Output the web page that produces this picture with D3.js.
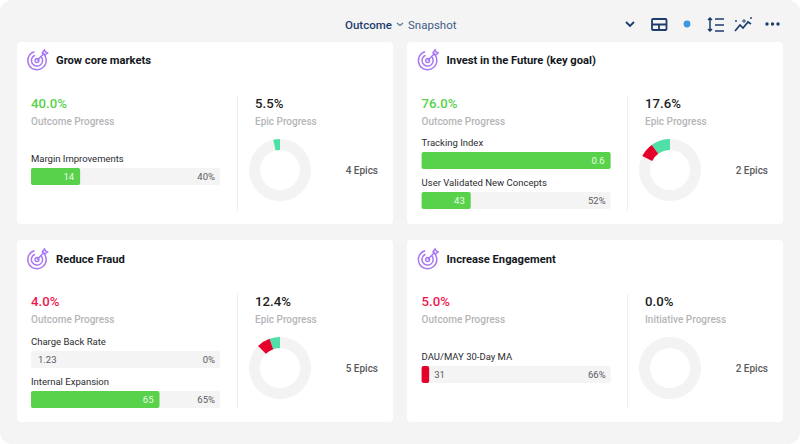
<!DOCTYPE html>
<html><head><meta charset="utf-8">
<script src="https://cdn.jsdelivr.net/npm/d3@7/dist/d3.min.js"></script>
<style>html,body{margin:0;padding:0;background:#fff}svg{display:block}text{font-family:Roboto,Inter,"Noto Sans",sans-serif}</style>
</head><body><svg id="c" width="800" height="444"></svg>
<script>
const titles=["Grow core markets","Invest in the Future (key goal)","Reduce Fraud","Increase Engagement"];
const outcomeLabels=["40.0%","76.0%","4.0%","5.0%"];
const outcomeColors=["#57d24a","#57d24a","#f0174f","#f0174f"];
const rightLabels=["5.5%","17.6%","12.4%","0.0%"];
const rightNames=["Epic Progress","Epic Progress","Epic Progress","Initiative Progress"];
const epicCounts=["4 Epics","2 Epics","5 Epics","2 Epics"];
const donutTeal=[3.5,10,5.5,0];
const donutRed=[0,7.6,7,0];
const metricNames=[["Margin Improvements"],["Tracking Index","User Validated New Concepts"],["Charge Back Rate","Internal Expansion"],["DAU/MAY 30-Day MA"]];
const metricValues=[["14"],["0.6","43"],["1.23","65"],["31"]];
const metricFill=[[26],[100,26],[0,68],[4]];
const metricPct=[["40%"],["","52%"],["0%","65%"],["66%"]];
const metricColor=[["#57d24a"],["#57d24a","#57d24a"],["#57d24a","#57d24a"],["#e4002b"]];

const svg=d3.select("#c");
svg.append("rect").attr("width",800).attr("height",444).attr("rx",12).attr("fill","#f4f4f5");
const cardX=d3.scaleOrdinal([0,1,2,3],[17,407,17,407]);
const cardY=d3.scaleOrdinal([0,1,2,3],[42,42,240,240]);
const titleShift=d3.scaleOrdinal([0,1,2,3],[0,0,1,1]);
const barStart=d3.scaleOrdinal([0,1,2,3],[126,110,111,126]);
const colShift=d3.scaleOrdinal([0,1,2,3],[0,0.6,0,0.6]);
const barW=d3.scaleLinear([0,100],[0,189]);
const arc=d3.arc().innerRadius(20).outerRadius(31);
const navy="#1c3d6b";

const T=(g,x,y,s,size,fill,weight,anchor)=>g.append("text").attr("x",x).attr("y",y).text(s).attr("font-size",size).attr("fill",fill).attr("font-weight",weight||400).attr("text-anchor",anchor||"start");
const h=svg.append("g");
T(h,345,29,"Outcome",11.5,navy,500);
h.append("path").attr("d","M397 23l3 2.5 3-2.5").attr("fill","none").attr("stroke","#5b7493").attr("stroke-width",1.1);
T(h,408,29,"Snapshot",11.5,"#3f5f86",400);
const ic=h.append("g").attr("fill","none").attr("stroke",navy).attr("stroke-width",1.8);
ic.append("path").attr("d","M626 22l4 4 4-4");
ic.append("rect").attr("x",652).attr("y",19).attr("width",14.5).attr("height",11).attr("rx",1);
ic.append("path").attr("d","M652 24.5h14.5M659 24.5v5.5");
h.append("circle").attr("cx",687).attr("cy",24).attr("r",3.4).attr("fill","#3b97e0");
ic.append("path").attr("d","M710 18v13M708 20l2-2 2 2M708 29l2 2 2-2M715 19h9M715 25h9M715 31h9").attr("stroke-width",1.5);
ic.append("path").attr("d","M735 31l5-6 3 3 5-6 3 2").attr("stroke-width",1.7);
ic.append("path").attr("d","M744 19v4M742 21h4M736 20v2M735 21h2M751 17v2M750 18h2").attr("stroke-width",.9);
[767,772.5,778].forEach(x=>h.append("circle").attr("cx",x).attr("cy",24).attr("r",1.7).attr("fill",navy));

titles.forEach((title,i)=>{
  const card=svg.append("g").attr("transform",`translate(${cardX(i)},${cardY(i)})`);
  card.append("rect").attr("width",376).attr("height",182).attr("rx",4).attr("fill","#fff");
  const g=card.append("g").attr("transform",`translate(${colShift(i)},0)`);
  const ig=g.append("g").attr("transform",`translate(20,${18.5+titleShift(i)})`).attr("fill","none").attr("stroke","#a878f2").attr("stroke-width",1.5);
  ig.append("path").attr("d",d3.arc()({innerRadius:9.2,outerRadius:9.2,startAngle:0.6,endAngle:6.0}));
  ig.append("path").attr("d",d3.arc()({innerRadius:5.6,outerRadius:5.6,startAngle:0.7,endAngle:5.9}));
  ig.append("path").attr("d",d3.arc()({innerRadius:2,outerRadius:2,startAngle:0,endAngle:6.28}));
  ig.append("path").attr("d","M0 0L6.5 -6.5M5.5 -8l2 -2.5 1 2 2 1 -2.5 2z");
  T(g,39,21.5+titleShift(i),title,11.2,"#15171c",700);
  T(g,14,66,outcomeLabels[i],13.2,outcomeColors[i],500);
  T(g,14,83,"Outcome Progress",10,"#b5b6b9",500);
  const names=metricNames[i];
  const y0=barStart(i);
  names.forEach((n,j)=>{
    const by=y0+j*40;
    T(g,14,by-6,n,9.5,"#2a2c30",400);
    g.append("rect").attr("x",14).attr("y",by).attr("width",barW(100)).attr("height",17).attr("rx",2).attr("fill","#f4f4f5");
    const w=barW(metricFill[i][j]);
    if(w>0)g.append("rect").attr("x",14).attr("y",by).attr("width",w).attr("height",17).attr("rx",2).attr("fill",metricColor[i][j]);
    const inside=w>40;
    T(g,inside?14+w-6:(w>0?14+w+5:21),by+12,metricValues[i][j],9.5,inside?"#eafbe6":"#5a5a5c",400,inside?"end":"start");
    if(metricPct[i][j])T(g,198,by+12,metricPct[i][j],9.5,"#5a5a5c",400,"end");
  });
  card.append("line").attr("x1",220.5).attr("x2",220.5).attr("y1",54).attr("y2",169).attr("stroke","#eeeef0");
  T(card,238,66,rightLabels[i],13.2,"#1c1e22",500);
  T(card,238,83,rightNames[i],10,"#b5b6b9",500);
  const dg=card.append("g").attr("transform","translate(263,128)");
  dg.append("path").attr("d",arc({startAngle:0,endAngle:2*Math.PI})).attr("fill","#f3f3f4");
  const toA=d3.scaleLinear([0,100],[0,-2*Math.PI]);
  const teal=donutTeal[i],red=donutRed[i];
  if(teal>0)dg.append("path").attr("d",arc({startAngle:toA(0),endAngle:toA(teal)})).attr("fill","#4fe0a8");
  if(red>0)dg.append("path").attr("d",arc({startAngle:toA(teal),endAngle:toA(teal+red)})).attr("fill","#e4002b");
  T(card,361,132,epicCounts[i],10,"#5a5a5c",500,"end");
});
</script></body></html>
